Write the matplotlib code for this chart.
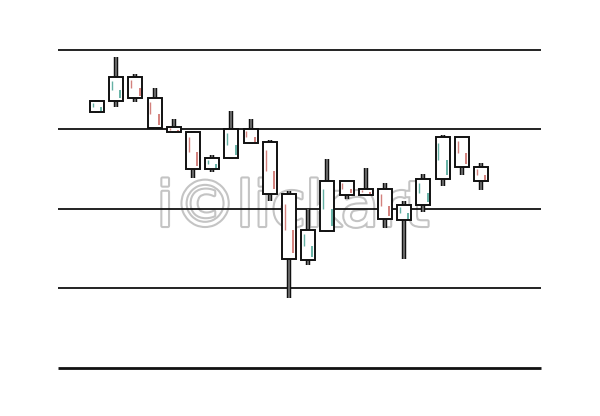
import matplotlib
matplotlib.use('Agg')
import matplotlib.pyplot as plt
import matplotlib.patheffects as pe
from matplotlib.patches import Rectangle

# 캔들 데이터 (시가, 고가, 저가, 종가)
opens  = [132.2, 133.6, 136.6, 134.0, 130.3, 129.7, 125.0, 126.4, 130.1, 128.4, 121.9,
          113.6, 117.2, 123.5, 122.5, 122.5, 118.6, 120.5, 123.8, 129.1, 125.3]
highs  = [133.7, 139.1, 137.0, 135.2, 131.3, 129.8, 126.8, 132.3, 131.3, 128.7, 122.3,
          120.0, 126.3, 123.5, 125.2, 123.3, 121.0, 124.4, 129.3, 129.1, 125.8]
lows   = [132.1, 132.8, 133.5, 130.1, 129.6, 123.9, 124.7, 126.3, 128.2, 121.0, 108.8,
          113.0, 117.1, 121.3, 121.6, 117.6, 113.7, 119.6, 122.9, 124.3, 122.4]
closes = [133.6, 136.6, 134.0, 130.2, 129.7, 125.0, 126.4, 130.1, 128.3, 121.9, 113.7,
          117.4, 123.5, 121.8, 121.8, 118.7, 120.5, 123.8, 129.1, 125.3, 123.5]
grid_levels = [100, 110, 120, 130, 140]

up_color = '#3f9e8e'
down_color = '#c8625c'
box_w = 0.73

fig = plt.figure(figsize=(6, 4.16), dpi=100)
ax = fig.add_axes([0, 0, 1, 1])
ax.set_xlim(-5.05, 26.2)
ax.set_ylim(93.96, 146.29)
ax.axis('off')

# 가로선
for i, lv in enumerate(grid_levels):
    ax.hlines(lv, -2.03, 23.12, color='#111111', linewidth=2.0 if i == 0 else 1.3, zorder=1)

# 워터마크
ax.text(10.2, 120.0, 'i©lickart', ha='center', va='center', fontsize=45,
        family=['Liberation Sans Narrow', 'DejaVu Sans'], color='white', zorder=0.5,
        path_effects=[pe.Stroke(linewidth=3, foreground='#c4c4c4'), pe.Normal()])

for i in range(len(opens)):
    o, h, l, c = opens[i], highs[i], lows[i], closes[i]
    up = c >= o
    col = up_color if up else down_color
    top, bot = max(o, c), min(o, c)
    # 꼬리
    ax.vlines(i, bot, l, color='#111111', linewidth=3.2, zorder=2)
    ax.vlines(i, top, h, color='#111111', linewidth=3.2, zorder=2)
    ax.vlines(i, bot, l, color='#777777', linewidth=1.2, zorder=2.1)
    ax.vlines(i, top, h, color='#777777', linewidth=1.2, zorder=2.1)
    # 몸통
    ax.add_patch(Rectangle((i - box_w / 2, bot), box_w, top - bot, facecolor='white',
                           edgecolor='#111111', linewidth=1.4, zorder=3))
    # 손그림 느낌의 색 줄
    hgt = top - bot
    ax.vlines(i - box_w * 0.3, top - hgt * 0.15, top - hgt * 0.55, color=col,
              linewidth=1.0, alpha=0.8, zorder=4)
    ax.vlines(i + box_w * 0.3, bot + hgt * 0.1, bot + hgt * 0.45, color=col,
              linewidth=1.4, alpha=0.8, zorder=4)

plt.savefig('out.png', dpi=100, facecolor='white')
